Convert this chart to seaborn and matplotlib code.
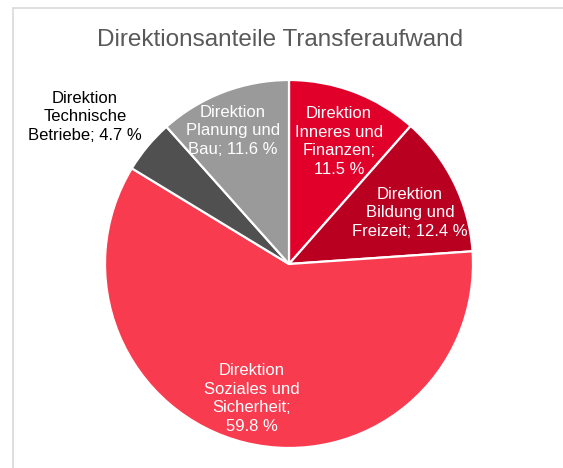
import numpy as np
import matplotlib
matplotlib.use("Agg")
import matplotlib.pyplot as plt
import seaborn as sns
from matplotlib.patches import Rectangle

categories = ["Direktion\nInneres und\nFinanzen;\n11.5 %",
              "Direktion\nBildung und\nFreizeit; 12.4 %",
              "Direktion\nSoziales und\nSicherheit;\n59.8 %",
              "Direktion\nTechnische\nBetriebe; 4.7 %",
              "Direktion\nPlanung und\nBau; 11.6 %"]
values = [11.5, 12.4, 59.8, 4.7, 11.6]
colors = ["#E0002A", "#BA0021", "#F93B50", "#505050", "#9A9A9A"]
label_colors = ["white", "white", "white", "black", "white"]
label_radius = [0.72, 0.714, 0.758, 1.367, 0.785]
label_angle_offset = [-1.5, -3.4, -1.7, 4.0, 1.9]

sns.set_theme(style="white")
plt.rcParams['font.family'] = ['Liberation Sans', 'DejaVu Sans']

fig = plt.figure(figsize=(5.63, 4.68), dpi=100)
W, H = 563, 468
cx, cy, R = 289, 264, 184
ax = fig.add_axes([(cx - R) / W, (H - cy - R) / H, 2 * R / W, 2 * R / H])

wedges, _ = ax.pie(values, colors=colors, startangle=90, counterclock=False,
                   radius=1, wedgeprops=dict(edgecolor="white", linewidth=1.6))
ax.set_xlim(-1, 1)
ax.set_ylim(-1, 1)
ax.set_aspect("equal")
ax.axis("off")

for w, lab, col, r, off in zip(wedges, categories, label_colors, label_radius, label_angle_offset):
    mid = np.deg2rad((w.theta1 + w.theta2) / 2 + off)
    ax.text(r * np.cos(mid), r * np.sin(mid), lab, ha="center", va="center",
            color=col, fontsize=12, linespacing=1.3, clip_on=False)

fig.text(280 / W, 1 - 40 / H, "Direktionsanteile Transferaufwand", ha="center", va="center",
         fontsize=17.5, color="#595959")

fig.patches.append(Rectangle((13 / W, -0.01), 1.0, 1 - 8 / H + 0.01, transform=fig.transFigure,
                             fill=False, edgecolor="#D9D9D9", linewidth=1.2))

fig.savefig("out.png", dpi=100)
